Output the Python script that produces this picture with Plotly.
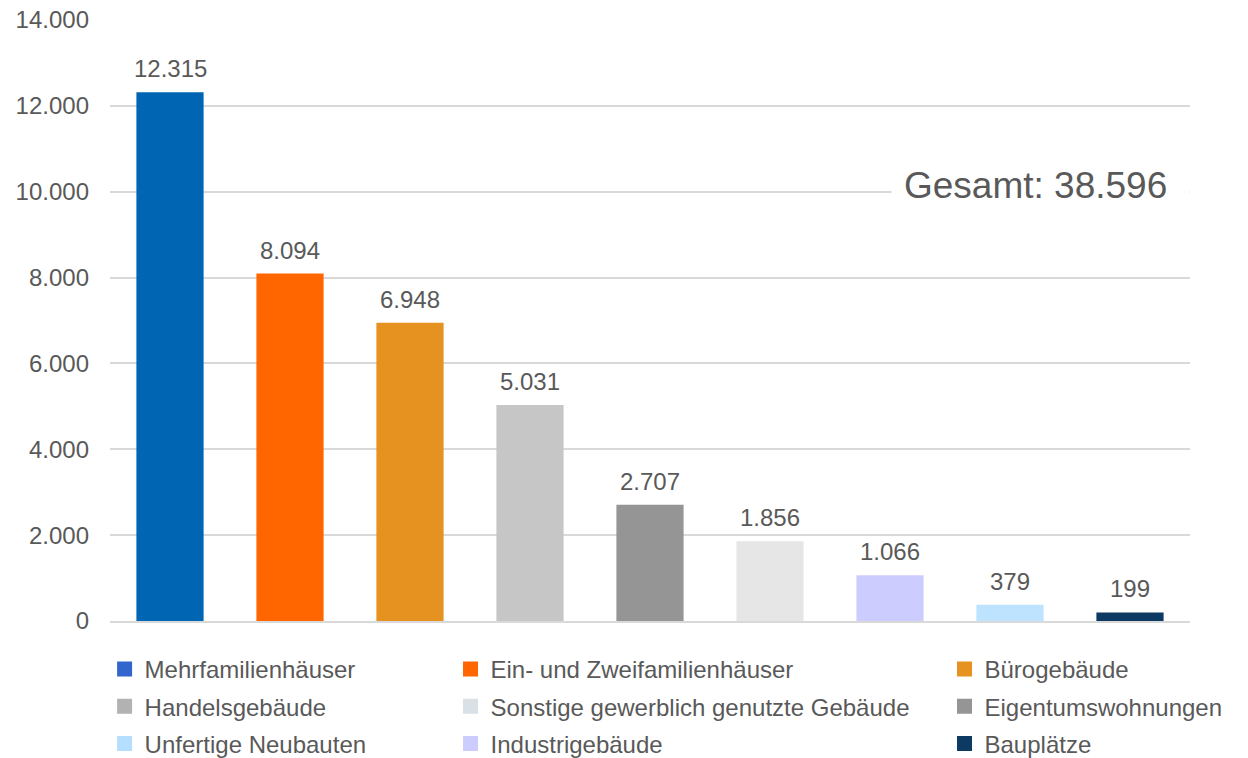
import plotly.graph_objects as go

# Bars, in plotted order
categories = [
    "Mehrfamilienhäuser", "Ein- und Zweifamilienhäuser", "Bürogebäude",
    "Handelsgebäude", "Eigentumswohnungen", "Sonstige gewerblich genutzte Gebäude",
    "Industrigebäude", "Unfertige Neubauten", "Bauplätze",
]
values = [12315, 8094, 6948, 5031, 2707, 1856, 1066, 379, 199]
bar_colors = ["#0066B3", "#FF6600", "#E59220", "#C6C6C6", "#959595",
              "#E6E6E6", "#CCCCFF", "#BDE3FF", "#0C3A63"]

# Legend columns (left to right), each listed top to bottom
legend_columns = [
    ["Mehrfamilienhäuser", "Handelsgebäude", "Unfertige Neubauten"],
    ["Ein- und Zweifamilienhäuser", "Sonstige gewerblich genutzte Gebäude", "Industrigebäude"],
    ["Bürogebäude", "Eigentumswohnungen", "Bauplätze"],
]
legend_colors = [
    ["#3366CC", "#B2B2B2", "#B5DEFF"],
    ["#FF6600", "#D9E1E6", "#CCCCFF"],
    ["#E59220", "#959595", "#0C3A63"],
]

total_label = "Gesamt: 38.596"
y_ticks = [0, 2000, 4000, 6000, 8000, 10000, 12000, 14000]

FONT = "Liberation Sans, Arial, sans-serif"
TXT = "#595959"
GRID = "#D9D9D9"


def de_num(v):
    return f"{v:,}".replace(",", ".")


fig = go.Figure()
fig.add_trace(go.Bar(
    x=categories, y=values, marker=dict(color=bar_colors, line=dict(width=0)),
    showlegend=False, hoverinfo="x+y",
))

legend_names = ["legend", "legend2", "legend3"]
for col, (labels, colors) in enumerate(zip(legend_columns, legend_colors)):
    for i, (lab, colr) in enumerate(zip(labels, colors)):
        fig.add_trace(go.Scatter(
            x=[None], y=[None], mode="markers", name=lab,
            marker=dict(symbol="square", size=15, color=colr),
            legend=legend_names[col], legendgroup=f"{col}-{i}",
        ))

for cat, v in zip(categories, values):
    fig.add_annotation(
        x=cat, y=v, text=de_num(v), showarrow=False, yanchor="bottom",
        yshift=8, font=dict(family=FONT, size=24, color=TXT),
    )

# Total, on a white box that interrupts the 10.000 gridline
fig.add_annotation(
    xref="paper", yref="y", x=1.0, y=10000, xanchor="right", yanchor="middle",
    text=total_label, showarrow=False, bgcolor="white", borderpad=12,
    width=273, align="left", yshift=6,
    font=dict(family=FONT, size=37, color=TXT),
)

legend_common = dict(
    orientation="v", xanchor="left", yanchor="top", y=-0.0433,
    font=dict(family=FONT, size=24, color=TXT), bgcolor="rgba(0,0,0,0)",
    tracegroupgap=3, itemclick=False, itemdoubleclick=False,
)
fig.update_layout(
    width=1248, height=758,
    margin=dict(l=110, r=58, t=20, b=137, autoexpand=False),
    paper_bgcolor="white", plot_bgcolor="white",
    separators=",.",
    bargap=0.44,
    font=dict(family=FONT, color=TXT),
    legend=dict(x=-0.005, **legend_common),
    legend2=dict(x=0.3153, **legend_common),
    legend3=dict(x=0.7727, **legend_common),
    xaxis=dict(showticklabels=False, showgrid=False, showline=True,
               linecolor=GRID, linewidth=2, ticks="", fixedrange=True),
    yaxis=dict(range=[0, 14000], tickvals=y_ticks,
               ticktext=[de_num(t) for t in y_ticks],
               showgrid=True, gridcolor=GRID, gridwidth=1.5,
               zeroline=False, showline=False, ticks="",
               ticklabelstandoff=20,
               tickfont=dict(family=FONT, size=24, color=TXT), fixedrange=True),
)

fig.write_html("out.html")
